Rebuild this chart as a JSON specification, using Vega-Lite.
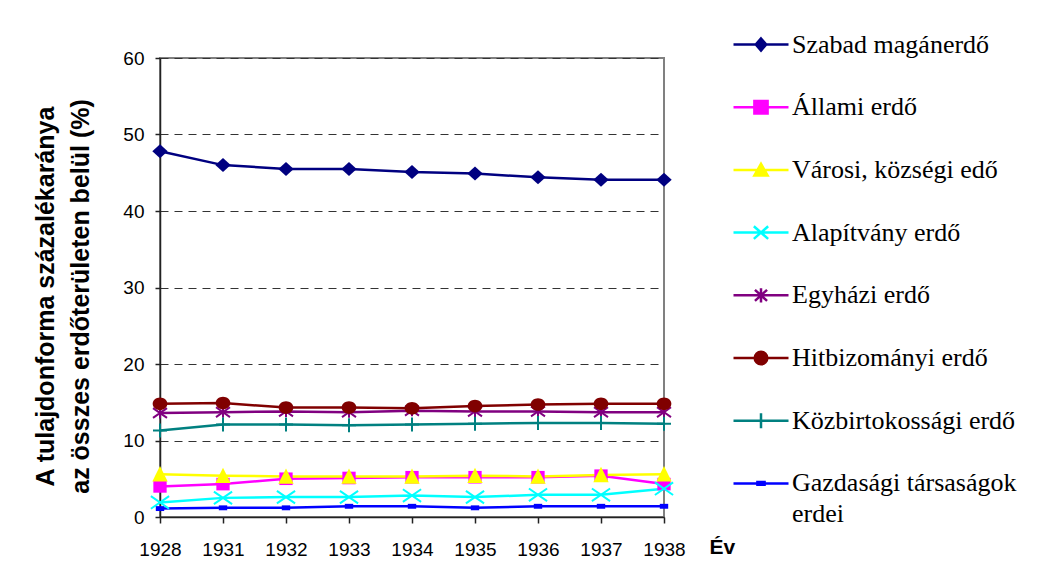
{
  "$schema": "https://vega.github.io/schema/vega-lite/v6.json",
  "width": 504,
  "height": 459,
  "autosize": {"type": "none"},
  "padding": {"left": 160, "top": 58, "right": 373, "bottom": 65},
  "background": "white",
  "config": {
    "font": "Liberation Sans",
    "view": {"stroke": "#808080", "strokeWidth": 2}
  },
  "data": {
    "values": [
      {"series": "Szabad magánerdő", "year": "1928", "value": 47.8},
      {"series": "Szabad magánerdő", "year": "1931", "value": 46.0},
      {"series": "Szabad magánerdő", "year": "1932", "value": 45.5},
      {"series": "Szabad magánerdő", "year": "1933", "value": 45.5},
      {"series": "Szabad magánerdő", "year": "1934", "value": 45.1},
      {"series": "Szabad magánerdő", "year": "1935", "value": 44.9},
      {"series": "Szabad magánerdő", "year": "1936", "value": 44.4},
      {"series": "Szabad magánerdő", "year": "1937", "value": 44.1},
      {"series": "Szabad magánerdő", "year": "1938", "value": 44.1},
      {"series": "Állami erdő", "year": "1928", "value": 4.0},
      {"series": "Állami erdő", "year": "1931", "value": 4.3},
      {"series": "Állami erdő", "year": "1932", "value": 5.0},
      {"series": "Állami erdő", "year": "1933", "value": 5.1},
      {"series": "Állami erdő", "year": "1934", "value": 5.2},
      {"series": "Állami erdő", "year": "1935", "value": 5.2},
      {"series": "Állami erdő", "year": "1936", "value": 5.2},
      {"series": "Állami erdő", "year": "1937", "value": 5.4},
      {"series": "Állami erdő", "year": "1938", "value": 4.3},
      {"series": "Városi, községi edő", "year": "1928", "value": 5.6},
      {"series": "Városi, községi edő", "year": "1931", "value": 5.4},
      {"series": "Városi, községi edő", "year": "1932", "value": 5.3},
      {"series": "Városi, községi edő", "year": "1933", "value": 5.3},
      {"series": "Városi, községi edő", "year": "1934", "value": 5.3},
      {"series": "Városi, községi edő", "year": "1935", "value": 5.4},
      {"series": "Városi, községi edő", "year": "1936", "value": 5.3},
      {"series": "Városi, községi edő", "year": "1937", "value": 5.5},
      {"series": "Városi, községi edő", "year": "1938", "value": 5.6},
      {"series": "Alapítvány erdő", "year": "1928", "value": 1.9},
      {"series": "Alapítvány erdő", "year": "1931", "value": 2.5},
      {"series": "Alapítvány erdő", "year": "1932", "value": 2.6},
      {"series": "Alapítvány erdő", "year": "1933", "value": 2.6},
      {"series": "Alapítvány erdő", "year": "1934", "value": 2.8},
      {"series": "Alapítvány erdő", "year": "1935", "value": 2.6},
      {"series": "Alapítvány erdő", "year": "1936", "value": 2.9},
      {"series": "Alapítvány erdő", "year": "1937", "value": 2.9},
      {"series": "Alapítvány erdő", "year": "1938", "value": 3.7},
      {"series": "Egyházi erdő", "year": "1928", "value": 13.6},
      {"series": "Egyházi erdő", "year": "1931", "value": 13.7},
      {"series": "Egyházi erdő", "year": "1932", "value": 13.8},
      {"series": "Egyházi erdő", "year": "1933", "value": 13.7},
      {"series": "Egyházi erdő", "year": "1934", "value": 13.9},
      {"series": "Egyházi erdő", "year": "1935", "value": 13.8},
      {"series": "Egyházi erdő", "year": "1936", "value": 13.8},
      {"series": "Egyházi erdő", "year": "1937", "value": 13.7},
      {"series": "Egyházi erdő", "year": "1938", "value": 13.7},
      {"series": "Hitbizományi erdő", "year": "1928", "value": 14.8},
      {"series": "Hitbizományi erdő", "year": "1931", "value": 14.9},
      {"series": "Hitbizományi erdő", "year": "1932", "value": 14.3},
      {"series": "Hitbizományi erdő", "year": "1933", "value": 14.3},
      {"series": "Hitbizományi erdő", "year": "1934", "value": 14.2},
      {"series": "Hitbizományi erdő", "year": "1935", "value": 14.5},
      {"series": "Hitbizományi erdő", "year": "1936", "value": 14.7},
      {"series": "Hitbizományi erdő", "year": "1937", "value": 14.8},
      {"series": "Hitbizományi erdő", "year": "1938", "value": 14.8},
      {"series": "Közbirtokossági erdő", "year": "1928", "value": 11.3},
      {"series": "Közbirtokossági erdő", "year": "1931", "value": 12.1},
      {"series": "Közbirtokossági erdő", "year": "1932", "value": 12.1},
      {"series": "Közbirtokossági erdő", "year": "1933", "value": 12.0},
      {"series": "Közbirtokossági erdő", "year": "1934", "value": 12.1},
      {"series": "Közbirtokossági erdő", "year": "1935", "value": 12.2},
      {"series": "Közbirtokossági erdő", "year": "1936", "value": 12.3},
      {"series": "Közbirtokossági erdő", "year": "1937", "value": 12.3},
      {"series": "Közbirtokossági erdő", "year": "1938", "value": 12.2},
      {"series": "Gazdasági társaságok erdei", "year": "1928", "value": 1.1},
      {"series": "Gazdasági társaságok erdei", "year": "1931", "value": 1.2},
      {"series": "Gazdasági társaságok erdei", "year": "1932", "value": 1.2},
      {"series": "Gazdasági társaságok erdei", "year": "1933", "value": 1.4},
      {"series": "Gazdasági társaságok erdei", "year": "1934", "value": 1.4},
      {"series": "Gazdasági társaságok erdei", "year": "1935", "value": 1.2},
      {"series": "Gazdasági társaságok erdei", "year": "1936", "value": 1.4},
      {"series": "Gazdasági társaságok erdei", "year": "1937", "value": 1.4},
      {"series": "Gazdasági társaságok erdei", "year": "1938", "value": 1.4}
    ]
  },
  "encoding": {
    "x": {
      "field": "year",
      "type": "ordinal",
      "scale": {"type": "point", "padding": 0},
      "axis": {
        "title": "Év",
        "labelAngle": 0,
        "labelFont": "Liberation Sans",
        "labelFontSize": 19,
        "labelColor": "#000",
        "labelPadding": 17,
        "tickSize": 6,
        "tickColor": "#222",
        "tickWidth": 1.5,
        "domainColor": "#222",
        "domainWidth": 1.5,
        "grid": false,
        "titleFont": "Liberation Sans",
        "titleFontSize": 21,
        "titleFontWeight": "bold",
        "titleColor": "#000",
        "titleX": 549,
        "titleY": 36,
        "titleAlign": "left",
        "titleBaseline": "alphabetic"
      }
    },
    "y": {
      "field": "value",
      "type": "quantitative",
      "scale": {"domain": [0, 60], "nice": false},
      "axis": {
        "title": ["A tulajdonforma százalékaránya", "az összes erdőterületen belül (%)"],
        "values": [0, 10, 20, 30, 40, 50, 60],
        "labelFont": "Liberation Sans",
        "labelFontSize": 19,
        "labelColor": "#000",
        "labelPadding": 11,
        "tickSize": 5,
        "tickColor": "#222",
        "tickWidth": 1.5,
        "domainColor": "#222",
        "domainWidth": 1.5,
        "grid": true,
        "gridDash": [8, 6],
        "gridColor": "#333",
        "gridWidth": 1,
        "titleFont": "Liberation Sans",
        "titleFontSize": 25,
        "titleFontWeight": "bold",
        "titleColor": "#000",
        "titleX": -107,
        "titleY": 238,
        "titleAngle": -90,
        "titleAlign": "center",
        "titleBaseline": "alphabetic",
        "titleLineHeight": 35
      }
    }
  },
  "layer": [
    {
      "mark": {"type": "line", "strokeWidth": 2.5},
      "encoding": {
        "color": {
          "field": "series",
          "type": "nominal",
          "scale": {
            "domain": ["Szabad magánerdő", "Állami erdő", "Városi, községi edő", "Alapítvány erdő", "Egyházi erdő", "Hitbizományi erdő", "Közbirtokossági erdő", "Gazdasági társaságok erdei"],
            "range": ["#000080", "#FF00FF", "#FFFF00", "#00FFFF", "#800080", "#800000", "#008080", "#0000FF"]
          },
          "legend": {
            "title": null,
            "orient": "none",
            "legendX": 572,
            "legendY": -42.5,
            "padding": 0,
            "symbolSize": 3025,
            "symbolStrokeWidth": 2.5,
            "rowPadding": 20.7,
            "labelOffset": 2,
            "labelFont": "Liberation Serif",
            "labelFontSize": 26,
            "labelColor": "#000",
            "labelLimit": 400,
            "labelExpr": "datum.label === 'Gazdasági társaságok erdei' ? ['Gazdasági társaságok', 'erdei'] : datum.label",
            "encode": {
              "symbols": {
                "update": {
                  "shape": {"signal": "datum.value === 'Szabad magánerdő' ? 'M-1,0H1M0,-0.22L0.19,0L0,0.22L-0.19,0Z' : datum.value === 'Állami erdő' ? 'M-1,0H1M-0.24,-0.23H0.24V0.23H-0.24Z' : datum.value === 'Városi, községi edő' ? 'M-1,0H1M0,-0.22L0.24,0.2L-0.24,0.2Z' : datum.value === 'Alapítvány erdő' ? 'M-1,0H1M-0.26,-0.23L0.26,0.23M-0.26,0.23L0.26,-0.23' : datum.value === 'Egyházi erdő' ? 'M-1,0H1M-0.22,-0.2L0.22,0.2M-0.22,0.2L0.22,-0.2M0,-0.26V0.26' : datum.value === 'Hitbizományi erdő' ? 'M-1,0H1M-0.23,0A0.23,0.23,0,1,0,0.23,0A0.23,0.23,0,1,0,-0.23,0Z' : datum.value === 'Közbirtokossági erdő' ? 'M-1,0H1M0,-0.27V0.27' : 'M-1,0H1M-0.13,-0.05H0.13V0.05H-0.13Z'"},
                  "fill": {"signal": "indexof(['Alapítvány erdő', 'Egyházi erdő', 'Közbirtokossági erdő'], datum.value) >= 0 ? 'transparent' : scale('color', datum.value)"},
                  "stroke": {"signal": "scale('color', datum.value)"},
                  "strokeWidth": {"value": 2.5},
                  "opacity": {"value": 1}
                }
              },
              "labels": {
                "update": {
                  "lineHeight": {"value": 31}
                }
              }
            }
          }
        }
      }
    },
    {
      "transform": [{"filter": "datum.series === 'Szabad magánerdő'"}],
      "mark": {"type": "point", "filled": true, "opacity": 1, "size": 196, "color": "#000080", "shape": "M0,-1L1.1,0L0,1L-1.1,0Z"}
    },
    {
      "transform": [{"filter": "datum.series === 'Állami erdő'"}],
      "mark": {"type": "point", "filled": true, "opacity": 1, "size": 196, "color": "#FF00FF", "shape": "M-0.95,-0.9H0.95V0.9H-0.95Z"}
    },
    {
      "transform": [{"filter": "datum.series === 'Városi, községi edő'"}],
      "mark": {"type": "point", "filled": true, "opacity": 1, "size": 196, "color": "#FFFF00", "shape": "M0,-1.15L1.1,1.05L-1.1,1.05Z"}
    },
    {
      "transform": [{"filter": "datum.series === 'Alapítvány erdő'"}],
      "mark": {"type": "point", "filled": false, "opacity": 1, "size": 196, "strokeWidth": 2, "color": "#00FFFF", "shape": "M-1.3,-0.9L1.3,0.9M-1.3,0.9L1.3,-0.9"}
    },
    {
      "transform": [{"filter": "datum.series === 'Egyházi erdő'"}],
      "mark": {"type": "point", "filled": false, "opacity": 1, "size": 196, "strokeWidth": 2, "color": "#800080", "shape": "M-1,-0.7L1,0.7M-1,0.7L1,-0.7M0,-0.8V0.8"}
    },
    {
      "transform": [{"filter": "datum.series === 'Hitbizományi erdő'"}],
      "mark": {"type": "point", "filled": true, "opacity": 1, "size": 196, "color": "#800000", "shape": "M-1.05,0A1.05,0.9,0,1,0,1.05,0A1.05,0.9,0,1,0,-1.05,0Z"}
    },
    {
      "transform": [{"filter": "datum.series === 'Közbirtokossági erdő'"}],
      "mark": {"type": "point", "filled": false, "opacity": 1, "size": 196, "strokeWidth": 2, "color": "#008080", "shape": "M-1,0H1M0,-1V1"}
    },
    {
      "transform": [{"filter": "datum.series === 'Gazdasági társaságok erdei'"}],
      "mark": {"type": "point", "filled": true, "opacity": 1, "size": 196, "color": "#0000FF", "shape": "M-0.6,-0.35H0.6V0.35H-0.6Z"}
    }
  ]
}
